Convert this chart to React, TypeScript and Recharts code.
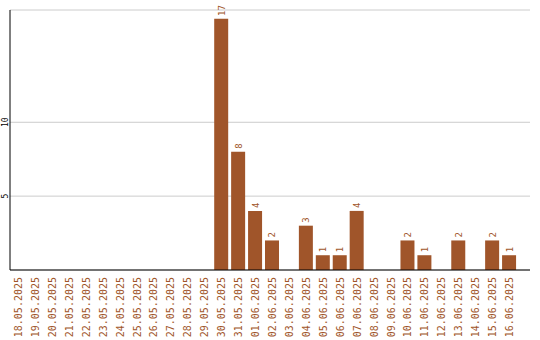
import { BarChart, Bar, XAxis, YAxis, CartesianGrid, LabelList } from 'recharts';

const dates = [
  '18.05.2025', '19.05.2025', '20.05.2025', '21.05.2025', '22.05.2025', '23.05.2025',
  '24.05.2025', '25.05.2025', '26.05.2025', '27.05.2025', '28.05.2025', '29.05.2025',
  '30.05.2025', '31.05.2025', '01.06.2025', '02.06.2025', '03.06.2025', '04.06.2025',
  '05.06.2025', '06.06.2025', '07.06.2025', '08.06.2025', '09.06.2025', '10.06.2025',
  '11.06.2025', '12.06.2025', '13.06.2025', '14.06.2025', '15.06.2025', '16.06.2025',
];
const counts = [
  0, 0, 0, 0, 0, 0, 0, 0, 0, 0, 0, 0,
  17, 8, 4, 2, 0, 3, 1, 1, 4, 0, 0, 2, 1, 0, 2, 0, 2, 1,
];
const yTicks = [5, 10];

const data = dates.map((d, i) => ({ date: d, count: counts[i] }));

const BROWN = '#a0552a';
const MONO = '"DejaVu Sans Mono", monospace';

const DateTick = (props: any) => {
  const { x, payload } = props;
  const tx = x + 3.5;
  const ty = 277;
  return (
    <text x={tx} y={ty} transform={`rotate(-90 ${tx} ${ty})`} textAnchor="end"
      fontFamily={MONO} fontSize={10} fill={BROWN}>
      {payload.value}
    </text>
  );
};

const ValueTick = (props: any) => {
  const { y, payload } = props;
  const tx = 8;
  return (
    <text x={tx} y={y} transform={`rotate(-90 ${tx} ${y})`} textAnchor="middle"
      fontFamily={MONO} fontSize={8} fill="#000">
      {payload.value}
    </text>
  );
};

const BarValue = (props: any) => {
  const { x, y, width, value } = props;
  if (!value) return null;
  const tx = x + width / 2 + 3.5;
  const ty = y - 3;
  return (
    <text x={tx} y={ty} transform={`rotate(-90 ${tx} ${ty})`} textAnchor="start"
      fontFamily={MONO} fontSize={9} fill={BROWN}>
      {value}
    </text>
  );
};

export default function App() {
  return (
    <div style={{ position: 'fixed', left: 0, top: 0, background: '#fff' }}>
      <BarChart width={540} height={340} data={data}
        margin={{ top: 10, right: 10, left: 0, bottom: 0 }} barSize={14}>
        <CartesianGrid vertical={false} stroke="#cccccc" />
        <XAxis dataKey="date" interval={0} height={70} tick={<DateTick />} tickLine={false}
          stroke="#000" padding={{ left: 0, right: 12 }} />
        <YAxis width={10} domain={[0, 17.6]} ticks={yTicks} tick={<ValueTick />} tickLine={false}
          stroke="#000" allowDataOverflow />
        <Bar dataKey="count" fill={BROWN} isAnimationActive={false}>
          <LabelList dataKey="count" content={<BarValue />} />
        </Bar>
      </BarChart>
    </div>
  );
}
